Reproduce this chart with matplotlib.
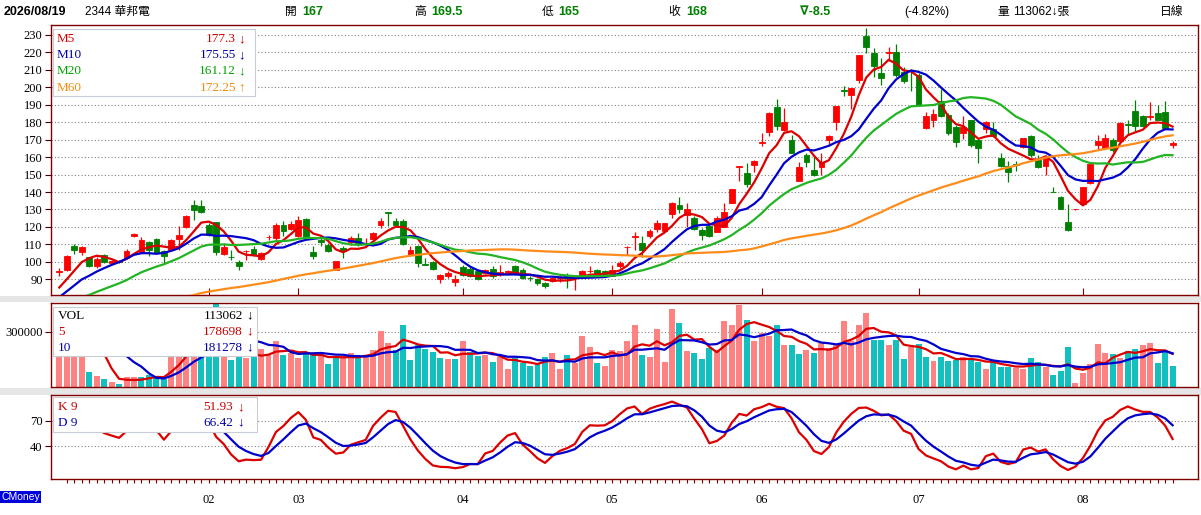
import numpy as np
import matplotlib
matplotlib.use("Agg")
import matplotlib.pyplot as plt
from matplotlib.patches import Rectangle

W, H = 1201, 515

# ---------------- data ----------------
opens = [94, 95.5, 108.9, 105.7, 102.6, 97.8, 103.7, 99.2, 100.6, 102.2,
         114.6, 105.5, 111.6, 113.3, 106, 107, 113.3, 120, 132.8, 132.2,
         121.3, 122.9, 104.7, 102.8, 99.9, 106, 107.4, 101.6, 114, 113.7,
         121, 119.1, 114.6, 124.8, 105.7, 112.5, 109.9, 95.5, 108, 111.2,
         113.7, 110, 113.3, 121.3, 128.6, 123.2, 123.6, 103.7, 109.3, 98.6,
         99.7, 90.4, 91.7, 88.3, 97, 95.9, 94.6, 93.6, 96.1, 93.5,
         94.1, 97.4, 95.5, 91, 90.2, 87.9, 88.9, 90.5, 92.7, 90.5,
         91.7, 94.6, 95.2, 94.6, 92.1, 97.4, 108.3, 114.2, 111, 114.8,
         118.6, 117.9, 127.4, 132.6, 126.8, 125.3, 118.2, 120.5, 117.3, 120.2,
         133.9, 154.5, 151.1, 155.5, 168, 174.2, 188.5, 175.6, 169.8, 146.5,
         161, 152.6, 154.5, 169.8, 180, 198.3, 195.6, 204.2, 229.6, 219.5,
         208.4, 219.7, 220.4, 209, 209.8, 207.1, 176.6, 181, 191.9, 184.2,
         177.5, 173.7, 181.3, 169.9, 176, 176, 159.4, 155, 155.8, 165.7,
         172.2, 158.4, 155, 140.3, 137.4, 123.1, 130, 133.2, 145.4, 167,
         165.1, 169.9, 169.5, 178.7, 186.5, 183.3, 183.1, 185.5, 186.1, 167]
highs = [96.5, 104, 110.4, 109, 103, 102.5, 104.3, 101, 101.2, 107.4,
         116.4, 114.3, 111.8, 113.7, 106.5, 113, 120.4, 127, 135.7, 135.7,
         122.3, 123, 110.8, 107, 101.3, 107, 109, 105.7, 115.6, 122.3,
         123.6, 123.6, 126, 125, 108.9, 113.7, 110.8, 100.5, 109, 114.6,
         116.6, 113.5, 117, 125.2, 128.6, 125, 124.6, 108.9, 109.5, 102.2,
         100.3, 93.3, 94.5, 92.7, 98.4, 97, 95.5, 95.9, 97.4, 98,
         95.5, 98.4, 96.3, 91.7, 91, 88.7, 91.5, 91.6, 93.6, 91.8,
         95.5, 97.4, 95.9, 95.5, 98.4, 100.3, 108.9, 117.3, 115, 118.6,
         124, 122.5, 134.2, 137.4, 133.5, 126.3, 119.2, 121, 126, 133.5,
         142, 155, 156.8, 158.3, 173.6, 186.1, 193.1, 188, 172.7, 157.4,
         162.6, 160.6, 162.6, 172.5, 189.5, 200.8, 199.6, 218.7, 233.8, 222.4,
         216.6, 222.9, 224.8, 211.9, 210.4, 208.1, 186.1, 187.5, 198.9, 185.2,
         178.5, 183.6, 181.5, 170.8, 180.6, 180.4, 162.2, 157.5, 157.5, 171.2,
         172.4, 161.3, 161, 143, 137.8, 133.2, 130.4, 143, 156.2, 172.8,
         173.3, 170.8, 180, 181, 192.8, 184, 191.3, 189.9, 192.4, 169.5]
lows = [91.7, 95, 104.5, 103.8, 97, 96.5, 99.3, 98.8, 99.6, 101.6,
        114.3, 105, 103.2, 105, 99, 106.5, 107, 119.5, 123.8, 128,
        114.6, 104, 104, 100.9, 95.2, 101.3, 103.2, 101.2, 112.7, 112.7,
        114.6, 118.5, 114, 113.7, 101.6, 109, 105.5, 95.3, 102.2, 109.9,
        108.9, 109, 112.5, 119.4, 120.4, 120.4, 109.9, 103.2, 96.9, 98,
        95.5, 87.9, 91, 86, 91.7, 91.5, 89.5, 93, 90.8, 91.7,
        93.6, 92.7, 90, 88.9, 87, 84.8, 88.5, 88.7, 85, 84,
        91, 93.6, 91.7, 91.5, 91.7, 96.5, 103.9, 106.8, 103, 113.5,
        117.3, 117, 124.9, 127.8, 119.8, 118.2, 112.5, 114, 117, 119.8,
        133.5, 146.5, 142.7, 151.3, 166.4, 172.1, 175.6, 175, 162.2, 146.5,
        154.2, 149.2, 149.8, 166.4, 175.6, 195, 187.4, 202.3, 219.9, 205.7,
        201.3, 215.3, 206.1, 202.7, 197.6, 189.9, 176, 177.5, 183, 172.8,
        165.7, 170.3, 166, 156.5, 173.7, 171.8, 154.6, 146, 152.3, 165,
        160.3, 153.6, 149.8, 140, 130.3, 117.4, 129.9, 133, 144.7, 164.5,
        164.5, 163.2, 169, 172.8, 175.2, 177, 181.3, 181, 176.3, 165]
closes = [94.5, 103.5, 106.6, 108.5, 97.4, 101.6, 99.9, 100.4, 100.0, 106.4,
          116, 112.7, 106.6, 105.1, 103.2, 112.7, 115.2, 126.5, 129.6, 128.4,
          115.6, 105.5, 108.3, 102.5, 97.4, 106.4, 104.1, 105.1, 114.5, 121,
          117.5, 121.7, 124.2, 114.3, 103.2, 111.5, 106.4, 100.3, 106, 113.7,
          110.8, 111, 116.6, 123.2, 128.2, 121.3, 110.4, 107, 99.4, 98.2,
          95.9, 92.7, 93.6, 90.2, 92.7, 92.1, 90.2, 95.2, 91.7, 94,
          94.6, 93.6, 90.8, 90.6, 87.9, 86, 90.8, 91.2, 90.8, 91.5,
          94.6, 94.8, 92.5, 92.8, 95.5, 99.4, 108.7, 114.6, 106.8, 117.9,
          122.1, 122.4, 133.9, 130.1, 130.3, 118.6, 115.4, 114.8, 125.3, 128.8,
          141.6, 154.9, 144.6, 158, 168.5, 185.1, 177.9, 180, 162.6, 154.2,
          157.4, 149.8, 157.4, 172.3, 189.3, 197.9, 199.4, 218.5, 222.9, 212.2,
          205.2, 220.1, 207.1, 203.8, 209.2, 189.9, 183.6, 184.8, 183.3, 174.1,
          168.9, 177.5, 167, 165.1, 180.4, 172.2, 155, 151.2, 155.4, 170.8,
          161.3, 154.2, 160.3, 140.1, 130.3, 118.3, 130.3, 142.8, 156, 169.5,
          170.8, 164.2, 179.8, 178.3, 177.9, 178.1, 183.5, 181.3, 176.5, 168]
volumes = [380000, 300000, 420000, 300000, 80000, 60000, 44000, 26000, 20000, 53000,
           53000, 53000, 65000, 56000, 47000, 200000, 230000, 300000, 320000, 280000,
           250000, 470000, 260000, 147000, 169000, 160000, 169000, 207000, 175000, 251000,
           175000, 184000, 160000, 178000, 175000, 178000, 125000, 160000, 169000, 184000,
           169000, 165000, 202000, 302000, 240000, 202000, 338000, 147000, 229000, 207000,
           193000, 160000, 153000, 150000, 247000, 193000, 169000, 175000, 138000, 165000,
           98000, 160000, 129000, 116000, 124000, 165000, 184000, 98000, 175000, 129000,
           275000, 220000, 129000, 116000, 202000, 196000, 247000, 338000, 175000, 165000,
           316000, 138000, 420000, 347000, 196000, 184000, 153000, 211000, 202000, 360000,
           338000, 442000, 365000, 251000, 293000, 275000, 335000, 229000, 229000, 178000,
           202000, 184000, 238000, 211000, 233000, 356000, 247000, 338000, 402000, 256000,
           256000, 229000, 256000, 153000, 220000, 233000, 165000, 142000, 165000, 142000,
           147000, 165000, 147000, 138000, 98000, 138000, 111000, 111000, 102000, 98000,
           160000, 138000, 111000, 69000, 87000, 215000, 24000, 78000, 124000, 233000,
           187000, 178000, 160000, 196000, 207000, 229000, 238000, 129000, 193000, 113062]
# closes before the visible window, estimated from the starting levels of the moving averages
prior_close = [60, 61, 60, 62, 61, 63, 62, 61, 63, 64, 62, 63, 64, 63, 65, 64, 63, 65, 64,
               63, 64, 65, 64, 66, 65, 64, 66, 67, 65, 64, 66, 67, 66, 65, 67, 66, 65, 66,
               67, 66, 65, 66, 67, 68,
               66, 67, 68, 68, 69, 69, 70, 73, 74, 76, 78, 80, 82, 84, 86]
# K and D level entering the window (estimated: hidden under the legend box)
kd_start = [78, 75]
month_labels = ["02", "03", "04", "05", "06", "07", "08"]
month_index = [20, 32, 54, 74, 94, 115, 137]

ma_names = ["M5", "M10", "M20", "M60"]
ma_periods = [5, 10, 20, 60]
ma_values = ["177.3", "175.55", "161.12", "172.25"]
ma_arrows = ["↓", "↓", "↓", "↑"]
vol_legend = [("VOL", "113062", "↓"), ("5", "178698", "↓"), ("10", "181278", "↓")]
kd_legend = [("K 9", "51.93", "↓"), ("D 9", "66.42", "↓")]

# ---------------- derived series ----------------
o = np.array(opens); h = np.array(highs); l = np.array(lows); c = np.array(closes)
v = np.array(volumes, dtype=float)
n = len(c)
x = np.arange(n)

def sma(arr, p):
    out = np.full(len(arr), np.nan)
    if len(arr) >= p:
        out[p - 1:] = np.convolve(arr, np.ones(p) / p, mode="valid")
    return out

full_close = np.concatenate([np.array(prior_close, dtype=float), c])
price_ma = [sma(full_close, p)[-n:] for p in ma_periods]
vol_ma5 = sma(v, 5)
vol_ma10 = sma(v, 10)

K = np.zeros(n); D = np.zeros(n)
kp, dp = float(kd_start[0]), float(kd_start[1])
for i in range(n):
    lo = l[max(0, i - 8):i + 1].min(); hi = h[max(0, i - 8):i + 1].max()
    rsv = (c[i] - lo) / (hi - lo) * 100 if hi > lo else 50
    kp = kp * 2 / 3 + rsv / 3
    dp = dp * 2 / 3 + kp / 3
    K[i] = kp; D[i] = dp

prev_c = np.concatenate([[prior_close[-1]], c[:-1]])

# ---------------- figure ----------------
fig = plt.figure(figsize=(W / 100, H / 100), dpi=100)
fig.patch.set_facecolor("white")

def rect(lf, tp, rt, bt):
    return [lf / W, 1 - bt / H, (rt - lf) / W, (bt - tp) / H]

SERIF = ["Liberation Serif", "DejaVu Serif"]
SANS = ["Liberation Sans", "DejaVu Sans"]
CJK = ["Liberation Sans", "Noto Sans CJK TC", "DejaVu Sans"]
FRAME = "#800000"

for (t, b) in [(296, 302.3), (388.3, 394.6)]:
    fig.add_artist(Rectangle((0, 1 - b / H), 1, (b - t) / H, transform=fig.transFigure,
                             facecolor="#E6E6E6", edgecolor="none", zorder=-1))

ax_p = fig.add_axes(rect(51, 25, 1198, 295))
ax_v = fig.add_axes(rect(51, 303.3, 1198, 387.3))
ax_k = fig.add_axes(rect(51, 395.3, 1198, 478.7))

for ax in (ax_p, ax_v, ax_k):
    ax.set_xlim(-1.11, 152.4)
    for s in ax.spines.values():
        s.set_color(FRAME); s.set_linewidth(1.0)
    ax.yaxis.grid(True, color="#808080", linestyle=(0, (1, 2)), linewidth=0.8)
    ax.set_axisbelow(True)
    ax.tick_params(axis="y", direction="out", length=4, width=0.8, color="#400000",
                   labelsize=9, pad=2)

# price panel
ax_p.set_ylim(81, 235.7)
ax_p.set_yticks(range(90, 231, 10))
ax_p.set_yticklabels([str(t) for t in range(90, 231, 10)], family=SERIF, fontsize=9)
ax_p.set_xticks(month_index)
ax_p.tick_params(axis="x", direction="in", length=5, width=0.8, color=FRAME,
                 labelbottom=False)
up = c >= o
ccol = np.where(up, "#FF0000", "#008000")
ax_p.vlines(x, l, h, colors=ccol, linewidth=0.9, zorder=2)
ax_p.bar(x, np.abs(c - o), bottom=np.minimum(o, c), width=0.78, color=ccol,
         edgecolor=ccol, linewidth=0.6, zorder=3)
ma_colors = ["#DD0000", "#0000CC", "#22B422", "#FF8C1A"]
for ma, col in zip(price_ma, ma_colors):
    ax_p.plot(x, ma, color=col, linewidth=1.6, zorder=4)

# volume panel
ax_v.set_ylim(0, 453000)
ax_v.set_yticks([300000])
ax_v.set_yticklabels(["300000"], family=SERIF, fontsize=9)
ax_v.set_xticks([])
vcol = np.where(c >= prev_c, "#FF8282", "#12C0C0")
ax_v.bar(x, v, width=0.8, color=vcol, zorder=2)
ax_v.plot(x, vol_ma5, color="#DD0000", linewidth=1.6, zorder=3)
ax_v.plot(x, vol_ma10, color="#0000CC", linewidth=1.6, zorder=3)

# KD panel
ax_k.set_ylim(0.8, 100.8)
ax_k.set_yticks([40, 70])
ax_k.set_yticklabels(["40", "70"], family=SERIF, fontsize=9)
ticks = list(range(1, n))
labels = [month_labels[month_index.index(t)] if t in month_index else "" for t in ticks]
ax_k.set_xticks(ticks)
ax_k.set_xticklabels(labels, family=SERIF, fontsize=9)
ax_k.tick_params(axis="x", direction="out", length=3, width=0.8, color=FRAME, pad=8)
ax_k.plot(x, K, color="#DD0000", linewidth=1.6, zorder=3)
ax_k.plot(x, D, color="#0000CC", linewidth=1.6, zorder=3)

# ---------------- legends / text ----------------
def box(lf, tp, rt, bt):
    fig.add_artist(Rectangle((lf / W, 1 - bt / H), (rt - lf) / W, (bt - tp) / H,
                             transform=fig.transFigure, facecolor="white",
                             edgecolor="#C8CCD4", linewidth=0.8, zorder=5))

def ftext(px, py, s, ha="left", **kw):
    fig.text(px / W, 1 - py / H, s, ha=ha, va="center", zorder=6, **kw)

box(53, 29, 255, 96)
leg_cols = ["#CC0000", "#0000AA", "#00A000", "#F08C10"]
for i, (nm, val, ar) in enumerate(zip(ma_names, ma_values, ma_arrows)):
    yy = 39 + i * 16.2
    ftext(57, yy, nm, color=leg_cols[i], family=SERIF, fontsize=9.5)
    ftext(236, yy, val, ha="right", color=leg_cols[i], family=SERIF, fontsize=9.5)
    ftext(241.5, yy, ar, ha="center", color=leg_cols[i], family=SERIF, fontsize=9.5)

box(53, 306.7, 257, 356)
vcols = ["#000000", "#CC0000", "#0000AA"]
for i, (nm, val, ar) in enumerate(vol_legend):
    yy = 315.7 + i * 16
    ftext(58, yy, nm, color=vcols[i], family=SERIF, fontsize=9.5)
    ftext(243, yy, val, ha="right", color=vcols[i], family=SERIF, fontsize=9.5)
    ftext(249.5, yy, ar, ha="center", color=vcols[i], family=SERIF, fontsize=9.5)

box(53, 396.7, 257, 431.7)
kcols = ["#CC0000", "#0000AA"]
for i, (nm, val, ar) in enumerate(kd_legend):
    yy = 407.3 + i * 15.4
    ftext(58, yy, nm, color=kcols[i], family=SERIF, fontsize=9.5)
    ftext(233, yy, val, ha="right", color=kcols[i], family=SERIF, fontsize=9.5)
    ftext(240.5, yy, ar, ha="center", color=kcols[i], family=SERIF, fontsize=9.5)

G = "#008000"
HY = 12
ftext(4, HY, "2026/08/19", family=SANS, fontsize=9, fontweight="bold")
ftext(85, HY, "2344 華邦電", family=CJK, fontsize=8.5)
ftext(285, HY, "開", family=CJK, fontsize=8.5)
ftext(302, HY, "167", family=SANS, fontsize=9, fontweight="bold", color=G)
ftext(414, HY, "高", family=CJK, fontsize=8.5)
ftext(431, HY, "169.5", family=SANS, fontsize=9, fontweight="bold", color=G)
ftext(542, HY, "低", family=CJK, fontsize=8.5)
ftext(558, HY, "165", family=SANS, fontsize=9, fontweight="bold", color=G)
ftext(668, HY, "收", family=CJK, fontsize=8.5)
ftext(686, HY, "168", family=SANS, fontsize=9, fontweight="bold", color=G)
ftext(800, HY, "∇-8.5", family=SANS, fontsize=9, fontweight="bold", color=G)
ftext(904, HY, "(-4.82%)", family=SANS, fontsize=8.5)
ftext(997, HY, "量", family=CJK, fontsize=8.5)
ftext(1013, HY, "113062↓張", family=CJK, fontsize=8.5)
ftext(1160, HY, "日線", family=CJK, fontsize=8.5)

fig.text(1 / W, 1 - 497 / H, "CMoney", ha="left", va="center", color="white",
         family=SANS, fontsize=7.5, zorder=6,
         bbox=dict(boxstyle="square,pad=0.12", facecolor="#0000DD", edgecolor="none"))

fig.savefig("out.png", dpi=100, facecolor="white")
